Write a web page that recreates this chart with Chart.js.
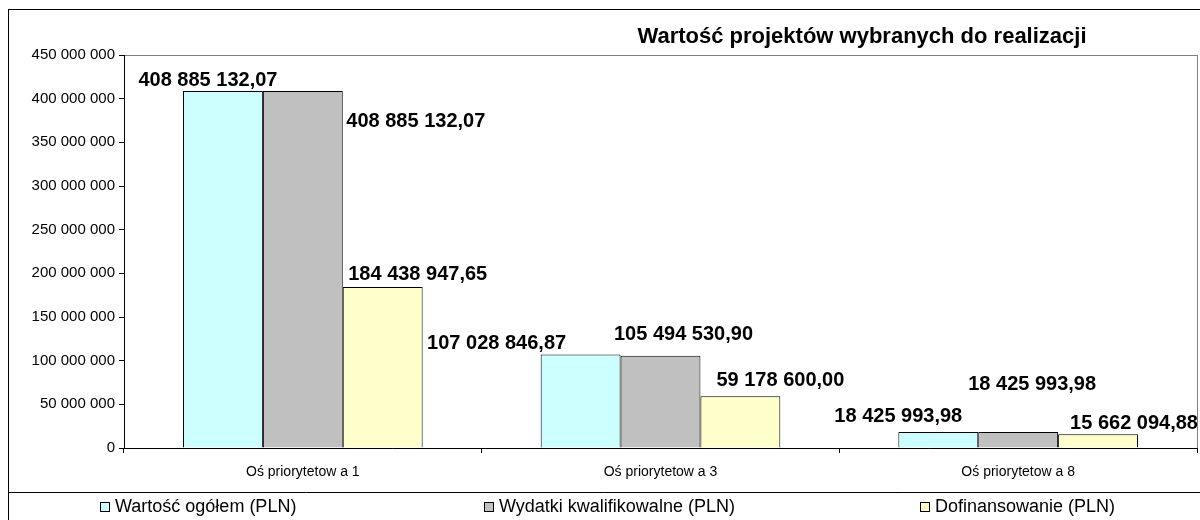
<!DOCTYPE html>
<html lang="pl">
<head>
<meta charset="utf-8">
<title>Wartość projektów wybranych do realizacji</title>
<script src="https://cdn.jsdelivr.net/npm/chart.js@4"></script>
<style>
  html, body { margin: 0; padding: 0; background: #fff; }
  #wrap { width: 1200px; height: 520px; }
</style>
</head>
<body>
<div id="wrap"><canvas id="wykres" width="1200" height="520"></canvas></div>
<script>
// Dane wykresu
const categories = ["Oś priorytetow a 1", "Oś priorytetow a 3", "Oś priorytetow a 8"];
const seriesNames = ["Wartość ogółem (PLN)", "Wydatki kwalifikowalne (PLN)", "Dofinansowanie (PLN)"];
const wartoscOgolem = [408885132.07, 107028846.87, 18425993.98];
const wydatkiKwalifikowalne = [408885132.07, 105494530.90, 18425993.98];
const dofinansowanie = [184438947.65, 59178600.00, 15662094.88];
const yTicks = [0, 50000000, 100000000, 150000000, 200000000, 250000000, 300000000, 350000000, 400000000, 450000000];

const colors = ["#CCFFFF", "#C0C0C0", "#FFFFCC"];
const FONT = "'Liberation Sans', Arial, sans-serif";

// przesunięcia etykiet (jak w oryginale z Excela) względem środka/wierzchołka słupka
const labelOffsets = [
  [[-15, -10], [-84, -11], [-40, -15]],
  [[113, 31], [23, -21], [14, -47]],
  [[35, -12], [40, -16], [36, -11]],
];

// formatowanie liczb po polsku: spacje tysięcy, przecinek dziesiętny
function grupuj(s) {
  return s.replace(/\B(?=(\d{3})+(?!\d))/g, " ");
}
function formatKwota(v) {
  const parts = v.toFixed(2).split(".");
  return grupuj(parts[0]) + "," + parts[1];
}

// tło, ramka i obramowanie obszaru wykresu
const ramkaPlugin = {
  id: "ramka",
  beforeDraw(chart) {
    const ctx = chart.ctx;
    const a = chart.chartArea;
    ctx.save();
    ctx.fillStyle = "#fff";
    ctx.fillRect(0, 0, chart.width, chart.height);
    ctx.strokeStyle = "#000";
    ctx.lineWidth = 1;
    ctx.strokeRect(8.5, 9.5, chart.width + 10, chart.height + 10);
    ctx.beginPath();
    ctx.moveTo(8.5, 492.5);
    ctx.lineTo(chart.width, 492.5);
    ctx.stroke();
    ctx.strokeStyle = "#808080";
    ctx.strokeRect(a.left + 0.5, a.top + 0.5, a.right - a.left, a.bottom - a.top);
    ctx.restore();
  },
};

// tytuł, etykiety wartości i legenda
const opisyPlugin = {
  id: "opisy",
  afterDraw(chart) {
    const ctx = chart.ctx;
    ctx.save();
    ctx.fillStyle = "#000";
    ctx.font = "bold 22px " + FONT;
    ctx.textAlign = "center";
    ctx.textBaseline = "middle";
    ctx.fillText("Wartość projektów wybranych do realizacji", 862, 37);

    ctx.font = "bold 20px " + FONT;
    chart.data.datasets.forEach((ds, i) => {
      const meta = chart.getDatasetMeta(i);
      meta.data.forEach((bar, j) => {
        const off = labelOffsets[i][j];
        ctx.fillText(formatKwota(ds.data[j]), bar.x + off[0], bar.y + off[1]);
      });
    });

    const legendX = [100, 484, 920];
    ctx.font = "18px " + FONT;
    ctx.textAlign = "left";
    chart.data.datasets.forEach((ds, i) => {
      const x = legendX[i];
      ctx.fillStyle = ds.backgroundColor;
      ctx.fillRect(x + 0.5, 502.5, 9, 9);
      ctx.strokeStyle = "#000";
      ctx.lineWidth = 1;
      ctx.strokeRect(x + 0.5, 502.5, 9, 9);
      ctx.fillStyle = "#000";
      ctx.fillText(ds.label, x + 15, 507.5);
    });
    ctx.restore();
  },
};

const datasets = [wartoscOgolem, wydatkiKwalifikowalne, dofinansowanie].map((d, i) => ({
  label: seriesNames[i],
  data: d,
  backgroundColor: colors[i],
  borderColor: "#000",
  borderWidth: 1,
  borderSkipped: "bottom",
  categoryPercentage: 0.67,
  barPercentage: 1.0,
}));

new Chart(document.getElementById("wykres"), {
  type: "bar",
  data: { labels: categories, datasets: datasets },
  options: {
    responsive: false,
    animation: false,
    layout: { padding: { top: 55, right: 3, left: 0, bottom: 0 } },
    plugins: {
      legend: { display: false },
      title: { display: false },
      tooltip: { enabled: false },
    },
    scales: {
      x: {
        grid: { drawOnChartArea: false, drawTicks: true, tickLength: 5, color: "#000", offset: true },
        border: { display: true, color: "#000", width: 1 },
        ticks: { font: { family: FONT, size: 14 }, color: "#000", padding: 11 },
        afterFit(scale) { scale.height = 72; },
      },
      y: {
        min: 0,
        max: yTicks[yTicks.length - 1],
        afterBuildTicks(scale) { scale.ticks = yTicks.map(v => ({ value: v })); },
        grid: { drawOnChartArea: false, drawTicks: true, tickLength: 5, color: "#000" },
        border: { display: true, color: "#000", width: 1 },
        ticks: {
          font: { family: FONT, size: 15 },
          color: "#000",
          padding: 4,
          callback: v => grupuj(String(v)),
        },
        afterFit(scale) { scale.width = 124; },
      },
    },
  },
  plugins: [ramkaPlugin, opisyPlugin],
});
</script>
</body>
</html>
